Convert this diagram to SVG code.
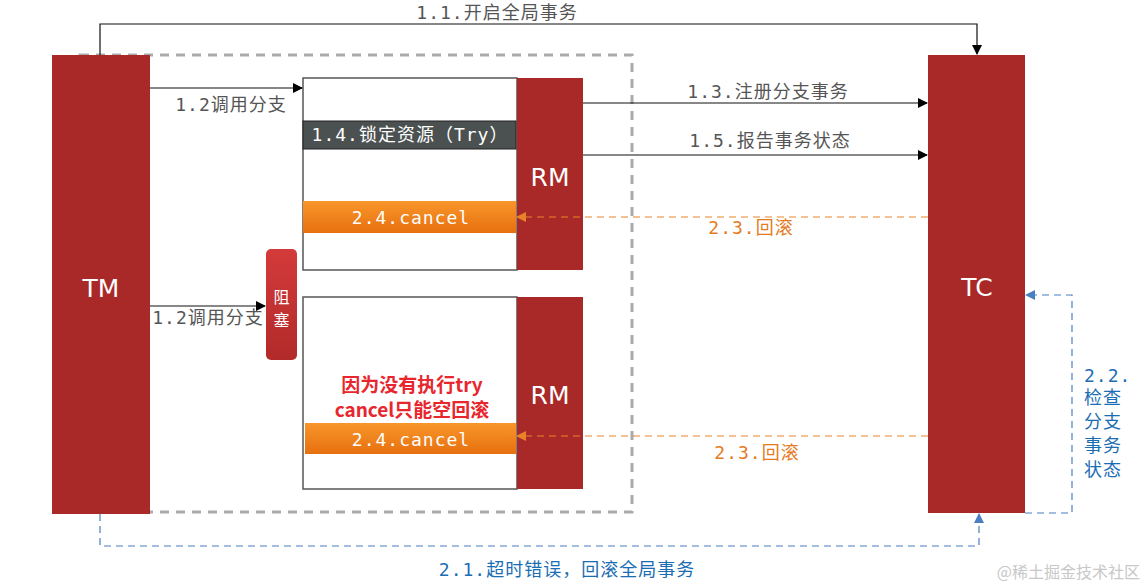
<svg xmlns="http://www.w3.org/2000/svg" width="1143" height="588" viewBox="0 0 1143 588">
<style>
.lbl{font-family:"DejaVu Sans Mono","Noto Sans CJK SC",monospace;font-size:18px;letter-spacing:1px;fill:#555;}
.org{fill:#e57a1e;}
.blu{fill:#1b6db3;}
.wt{fill:#fff;}
.big{font-family:"DejaVu Sans","Noto Sans CJK SC",sans-serif;font-size:25px;fill:#fff;}
.red{fill:#a92828;}
.box{fill:#fff;stroke:#555;stroke-width:1.5;}
.ln{stroke:#111;stroke-width:1.2;fill:none;}
.od{stroke:#e8832a;stroke-width:1.2;stroke-dasharray:7 5;fill:none;}
.bd{stroke:#4a7fc0;stroke-width:1.2;stroke-dasharray:7 5;fill:none;}
.rt{font-family:"Noto Sans CJK SC",sans-serif;font-size:19px;font-weight:bold;fill:#e8262d;}
.blk{font-family:"Noto Sans CJK SC",sans-serif;font-size:16px;fill:#fff;}
</style>
<defs>
<marker id="ab" markerWidth="10" markerHeight="10" refX="9" refY="5" orient="auto" markerUnits="userSpaceOnUse"><path d="M0,0 L10,5 L0,10 z" fill="#000"/></marker>
<marker id="ao" markerWidth="10" markerHeight="10" refX="9" refY="5" orient="auto" markerUnits="userSpaceOnUse"><path d="M0,0 L10,5 L0,10 z" fill="#e8832a"/></marker>
<marker id="abl" markerWidth="10" markerHeight="10" refX="9" refY="5" orient="auto" markerUnits="userSpaceOnUse"><path d="M0,0 L10,5 L0,10 z" fill="#4a7fc0"/></marker>
<linearGradient id="og" x1="0" y1="0" x2="0" y2="1"><stop offset="0" stop-color="#f9962a"/><stop offset="1" stop-color="#e6700f"/></linearGradient>
<linearGradient id="rg" x1="0" y1="0" x2="0" y2="1"><stop offset="0" stop-color="#d43a3a"/><stop offset="1" stop-color="#b22a2a"/></linearGradient>
</defs>
<rect width="1143" height="588" fill="#fff"/>
<rect x="80" y="55" width="552" height="457" fill="none" stroke="#aaa" stroke-width="3" stroke-dasharray="9 7"/>
<g id="TM"><rect class="red" x="52" y="55" width="98" height="459"/><text class="big" x="101" y="297" text-anchor="middle">TM</text></g>
<g id="TC"><rect class="red" x="928" y="55" width="97" height="458"/><text class="big" x="977" y="296" text-anchor="middle">TC</text></g>
<g id="RM1"><rect class="box" x="303" y="78" width="214" height="192"/><rect class="red" x="517" y="78" width="66" height="192"/><text class="big" x="550" y="186" text-anchor="middle">RM</text>
<rect x="303" y="121" width="213" height="28" fill="#4b5150" stroke="#222" stroke-width="1"/><text class="lbl wt" x="410" y="141" text-anchor="middle">1.4.锁定资源（Try）</text>
<rect x="303" y="201" width="213" height="32" fill="url(#og)"/><text class="lbl wt" x="411" y="224" text-anchor="middle">2.4.cancel</text></g>
<g id="RM2"><rect class="box" x="303" y="297" width="214" height="192"/><rect class="red" x="517" y="297" width="66" height="192"/><text class="big" x="550" y="404" text-anchor="middle">RM</text>
<text class="rt" x="412" y="392" text-anchor="middle">因为没有执行try</text>
<text class="rt" x="412" y="417" text-anchor="middle">cancel只能空回滚</text>
<rect x="305" y="423" width="211" height="31" fill="url(#og)"/><text class="lbl wt" x="411" y="446" text-anchor="middle">2.4.cancel</text></g>
<g id="block"><rect x="266" y="249" width="31" height="111" rx="5" fill="url(#rg)"/><text class="blk" x="281.5" y="303" text-anchor="middle">阻</text><text class="blk" x="281.5" y="326" text-anchor="middle">塞</text></g>
<g id="connectors">
<path class="ln" d="M100,55 V24 H977 V54" marker-end="url(#ab)"/>
<text class="lbl" x="497" y="19" text-anchor="middle">1.1.开启全局事务</text>
<path class="ln" d="M150,88 H302" marker-end="url(#ab)"/>
<text class="lbl" x="231" y="111" text-anchor="middle">1.2调用分支</text>
<path class="ln" d="M150,306 H265" marker-end="url(#ab)"/>
<text class="lbl" x="208" y="324" text-anchor="middle">1.2调用分支</text>
<path class="ln" d="M583,103 H927" marker-end="url(#ab)"/>
<text class="lbl" x="768" y="98" text-anchor="middle">1.3.注册分支事务</text>
<path class="ln" d="M583,155 H927" marker-end="url(#ab)"/>
<text class="lbl" x="770" y="147" text-anchor="middle">1.5.报告事务状态</text>
<path class="od" d="M928,217 H517" marker-end="url(#ao)"/>
<text class="lbl org" x="751" y="234" text-anchor="middle">2.3.回滚</text>
<path class="od" d="M928,436 H517" marker-end="url(#ao)"/>
<text class="lbl org" x="757" y="459" text-anchor="middle">2.3.回滚</text>
<path class="bd" d="M100,514 V546 H979 V514" marker-end="url(#abl)"/>
<text class="lbl blu" x="567" y="576" text-anchor="middle">2.1.超时错误，回滚全局事务</text>
<path class="bd" d="M1025,513 H1072 V295 H1026" marker-end="url(#abl)"/>
<text class="lbl blu" x="1084" y="382">2.2.</text>
<text class="lbl blu" x="1084" y="404">检查</text>
<text class="lbl blu" x="1084" y="428">分支</text>
<text class="lbl blu" x="1084" y="452">事务</text>
<text class="lbl blu" x="1084" y="476">状态</text>
</g>
<text x="1140" y="578" text-anchor="end" font-family="'Noto Sans CJK SC',sans-serif" font-size="16" fill="#c8c8c8">@稀土掘金技术社区</text>
</svg>
